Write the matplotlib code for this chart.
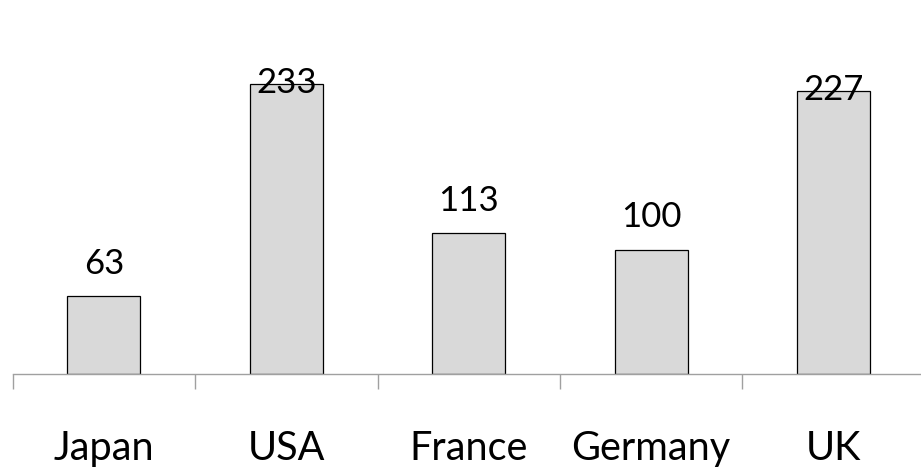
import matplotlib.pyplot as plt
import matplotlib.transforms as mtransforms
import numpy as np

countries = ['Japan', 'USA', 'France', 'Germany', 'UK']
values = [63, 233, 113, 100, 227]

plt.rcParams['font.family'] = ['Lato', 'DejaVu Sans']

fig = plt.figure(figsize=(9.21, 4.70), dpi=100)
ax = fig.add_axes([0.0138, 0.2032, 0.9903, 0.7968])

x = np.arange(len(countries))
ax.bar(x, values, width=0.4, color='#d9d9d9', edgecolor='black', linewidth=0.9, zorder=2)

ymax = 300
ax.set_ylim(0, ymax)
ax.set_xlim(-0.5, len(countries) - 0.5)

# value labels: above the bar, or tucked onto the bar top when there is no room
for xi, v in zip(x, values):
    dy = 16 if ymax - v > 80 else -6.5
    ax.annotate(str(v), (xi, v), xytext=(0, dy), textcoords='offset points',
                ha='center', va='baseline', fontsize=25, color='black', zorder=3)

# category names sit at the bottom of the figure
trans = mtransforms.blended_transform_factory(ax.transData, fig.transFigure)
for xi, name in zip(x, countries):
    ax.text(xi, 10 / 470, name, transform=trans, ha='center', va='baseline',
            fontsize=28.5, color='black', clip_on=False)

for side in ['top', 'right', 'left']:
    ax.spines[side].set_visible(False)
ax.spines['bottom'].set_color('#a0a0a0')
ax.spines['bottom'].set_linewidth(1.0)
ax.spines['bottom'].set_zorder(4)

ax.set_yticks([])
ax.set_xticks([])
ax.set_xticks(np.arange(-0.5, len(countries) + 0.5, 1), minor=True)
ax.tick_params(axis='x', which='minor', length=11, width=1.0, color='#a0a0a0', labelbottom=False)

fig.savefig('out.png', dpi=100)
